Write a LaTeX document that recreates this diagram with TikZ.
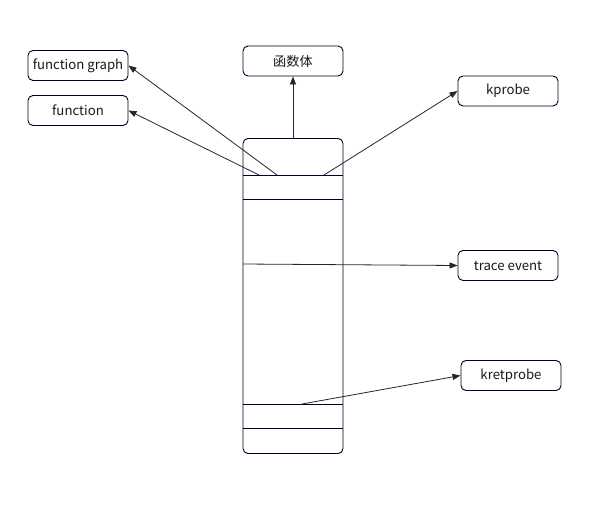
\documentclass[tikz,border=0pt]{standalone}
\usepackage{fontspec}
\setmainfont{Noto Sans CJK SC}
\usetikzlibrary{arrows.meta}
\begin{document}
\begin{tikzpicture}[x=1pt,y=-1pt,
  box/.style={draw=black!85!blue, line width=0.9pt, rounded corners=5pt, minimum width=100pt, minimum height=30pt, inner sep=0pt, font=\fontsize{13.2}{15}\selectfont, text=black!90},
  conn/.style={draw=black!85, line width=0.8pt, -{Triangle[length=8pt,width=6pt]}},
  sep/.style={draw=black!85!blue, line width=0.9pt}]
\useasboundingbox (0,0) rectangle (597,511);
\node[box] (fg) at (78,65.5) {function graph};
\node[box] (fn) at (78,110.5) {function};
\node[box] (body) at (293,61) {函数体};
\node[box] (kp) at (508,91) {kprobe};
\node[box] (te) at (508,265.5) {trace event};
\node[box] (kr) at (511,375.5) {kretprobe};
\node[box, minimum height=315pt] (stack) at (293,296) {};
\draw[sep] (243,175) -- (343,175);
\draw[sep] (243,199) -- (343,199);
\draw[sep] (243,404) -- (343,404);
\draw[sep] (243,428) -- (343,428);
\coordinate (sfg) at (277,175);
\coordinate (sfn) at (259,175);
\coordinate (skp) at (324,175);
\coordinate (ste) at (243,264);
\coordinate (skr) at (302,404);
\draw[conn] (sfg) -- (fg.east);
\draw[conn] (sfn) -- (fn.east);
\draw[conn] (stack.north) -- (body.south);
\draw[conn] (skp) -- (kp.west);
\draw[conn] (ste) -- (te.west);
\draw[conn] (skr) -- (kr.west);
\end{tikzpicture}
\end{document}
